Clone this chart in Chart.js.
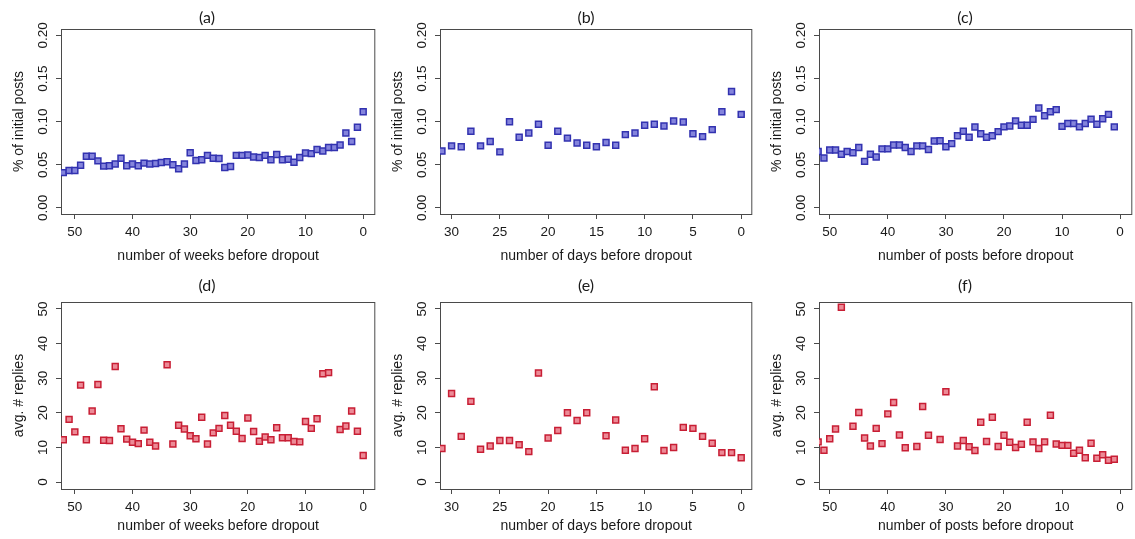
<!DOCTYPE html>
<html>
<head>
<meta charset="utf-8">
<title>dropout activity</title>
<script src="https://cdn.jsdelivr.net/npm/chart.js@4"></script>
<style>
  html, body { margin: 0; padding: 0; background: #fff; }
  body { position: relative; width: 1135px; height: 539px; overflow: hidden; }
  canvas { position: absolute; }
</style>
</head>
<body>
<canvas id="chartA"></canvas>
<canvas id="chartB"></canvas>
<canvas id="chartC"></canvas>
<canvas id="chartD"></canvas>
<canvas id="chartE"></canvas>
<canvas id="chartF"></canvas>
<script>
// x categories (counted down to the dropout)
const weeks = countdown(52, 0);
const days = countdown(31, 0);
const posts = countdown(52, 1);

// tick labels
const weekTicks = [50, 40, 30, 20, 10, 0];
const dayTicks = [30, 25, 20, 15, 10, 5, 0];
const postTicks = [50, 40, 30, 20, 10, 0];
const shareTicks = [0, 0.05, 0.10, 0.15, 0.20];
const replyTicks = [0, 10, 20, 30, 40, 50];

// % of initial posts
const shareByWeek = [0.041, 0.0435, 0.0435, 0.0496, 0.060, 0.060, 0.0546, 0.0485, 0.049, 0.051,
  0.0577, 0.049, 0.051, 0.049, 0.052, 0.051, 0.0515, 0.0527, 0.0535, 0.050, 0.0454, 0.051, 0.064,
  0.055, 0.056, 0.061, 0.0577, 0.0573, 0.047, 0.048, 0.061, 0.061, 0.0615, 0.059, 0.0585, 0.061,
  0.0558, 0.062, 0.0558, 0.0565, 0.053, 0.0585, 0.0638, 0.063, 0.0677, 0.066, 0.070, 0.070, 0.073,
  0.087, 0.077, 0.0935, 0.1115];
const shareByDay = [0.066, 0.072, 0.071, 0.089, 0.072, 0.077, 0.065, 0.100, 0.082, 0.087, 0.097,
  0.0727, 0.089, 0.081, 0.0754, 0.0727, 0.071, 0.0758, 0.0727, 0.085, 0.087, 0.096, 0.097, 0.095,
  0.1008, 0.0996, 0.086, 0.0827, 0.0908, 0.1115, 0.135, 0.1085];
const shareByPost = [0.0654, 0.058, 0.0673, 0.0673, 0.0623, 0.0654, 0.064, 0.070, 0.054, 0.0623,
  0.059, 0.0685, 0.0685, 0.073, 0.073, 0.070, 0.0654, 0.072, 0.072, 0.0677, 0.0777, 0.078, 0.071,
  0.0746, 0.0838, 0.089, 0.082, 0.0938, 0.086, 0.082, 0.0838, 0.0885, 0.094, 0.095, 0.101, 0.0958,
  0.0958, 0.1027, 0.116, 0.107, 0.1115, 0.114, 0.0946, 0.098, 0.098, 0.094, 0.098, 0.103, 0.097,
  0.1035, 0.1085, 0.094];

// avg. # replies (null = no point)
const repliesByWeek = [12.2, 18.1, 14.5, 28.0, 12.2, 20.5, 28.2, 12.1, 12.0, 33.4, 15.4, 12.4, 11.5,
  11.1, 15.0, 11.5, 10.4, null, 33.9, 11.0, 16.4, 15.3, 13.4, 12.5, 18.7, 11.0, 14.2, 15.5, 19.2,
  16.4, 14.7, 12.6, 18.5, 14.6, 11.8, 13.0, 12.2, 15.7, 12.8, 12.8, 11.7, 11.6, 17.5, 15.5, 18.3,
  31.3, 31.6, null, 15.2, 16.2, 20.5, 14.7, 7.7];
const repliesByDay = [9.7, 25.6, 13.2, 23.3, 9.5, 10.4, 12.0, 12.0, 10.8, 8.8, 31.5, 12.7, 14.9,
  20.0, 17.8, 20.0, null, 13.4, 17.9, 9.2, 9.7, 12.5, 27.5, 9.1, 10.0, 15.8, 15.5, 13.2, 11.2, 8.5,
  8.5, 7.0];
const repliesByPost = [11.6, 9.2, 12.5, 15.3, 50.5, null, 16.1, 20.1, 12.7, 10.4, 15.5, 11.1, 19.7,
  23.0, 13.6, 9.9, null, 10.3, 21.8, 13.5, null, 12.3, 26.1, null, 10.4, 12.0, 10.2, 9.1, 17.3,
  11.7, 18.7, 10.3, 13.5, 11.5, 10.0, 10.9, 17.3, 11.6, 9.7, 11.6, 19.3, 11.0, 10.6, 10.6, 8.3,
  9.2, 7.0, 11.2, 6.9, 7.9, 6.3, 6.6];

function countdown(from, to) {
    const out = [];
    for (let v = from; v >= to; v--) out.push(v);
    return out;
}

// layout of the 2x3 grid
const COL_LEFT = [0, 379, 758];
const COL_WIDTH = [381, 379, 380];
const ROW_TOP = [0, 270];
const ROW_HEIGHT = [270, 269];
const ROW_PAD_TOP = [29, 32];     // room for the (a)..(f) label
const ROW_X_AXIS = [56, 50];      // room under the box
const ROW_TITLE_GAP = [11.5, 16];
const ROW_XTITLE_PAD = [5, 4];
const Y_AXIS_W = 61;

const TEXT = '#1a1a1a';
const FRAME = '#4a4a4a';
const tickFont = { family: '"Liberation Sans", Arial, sans-serif', size: 13.5 };
const labelFont = { family: '"Liberation Sans", Arial, sans-serif', size: 14 };

const BLUE = { edge: '#3232b0', fill: '#8484dc' };
const RED = { edge: '#c81e34', fill: '#ec8a96' };

// R style box around the plot region
const framePlugin = {
    id: 'frame',
    beforeDatasetsDraw(chart) {
        const { ctx, chartArea: a } = chart;
        ctx.save();
        ctx.strokeStyle = FRAME;
        ctx.lineWidth = 1;
        ctx.strokeRect(a.left + 0.5, a.top + 0.5, a.right - a.left - 1, a.bottom - a.top);
        ctx.restore();
    }
};

// panel letter, placed like in the figure (a bit left of the box centre)
const panelTitlePlugin = {
    id: 'panelTitle',
    afterDraw(chart, args, opts) {
        const { ctx, chartArea: a } = chart;
        ctx.save();
        ctx.font = '16px Lato, "Open Sans", sans-serif';
        ctx.fillStyle = TEXT;
        ctx.textAlign = 'center';
        ctx.textBaseline = 'middle';
        ctx.fillText(opts.text, a.left + 146, a.top - opts.gap);
        ctx.restore();
    }
};

function createChart(p) {
    const canvas = document.getElementById(p.id);
    canvas.width = COL_WIDTH[p.col];
    canvas.height = ROW_HEIGHT[p.row];
    canvas.style.left = COL_LEFT[p.col] + 'px';
    canvas.style.top = ROW_TOP[p.row] + 'px';

    const pts = p.x.map((v, i) => ({ x: v, y: p.y[i] })).filter(d => d.y !== null);
    const row = p.row;

    return new Chart(canvas.getContext('2d'), {
        type: 'scatter',
        data: {
            datasets: [{
                data: pts,
                pointStyle: 'rect',
                pointRadius: 4.2,
                pointBackgroundColor: p.color.fill,
                pointBorderColor: p.color.edge,
                pointBorderWidth: 1.5,
                clip: 0
            }, {
                data: pts,
                pointStyle: 'crossRot',
                pointRadius: 2.4,
                pointBorderColor: p.color.edge,
                pointBorderWidth: 1,
                clip: 0
            }]
        },
        options: {
            responsive: false,
            animation: false,
            events: [],
            layout: { padding: { top: ROW_PAD_TOP[row], right: 1, left: 0, bottom: 0 } },
            plugins: {
                legend: { display: false },
                tooltip: { enabled: false },
                panelTitle: { text: p.title, gap: ROW_TITLE_GAP[row] }
            },
            scales: {
                x: {
                    type: 'linear',
                    reverse: true,
                    min: p.xRange[0],
                    max: p.xRange[1],
                    afterBuildTicks: s => { s.ticks = p.xTicks.map(v => ({ value: v })); },
                    afterFit: s => { s.height = ROW_X_AXIS[row]; },
                    grid: { drawOnChartArea: false, tickLength: 5, color: FRAME },
                    border: { display: false },
                    ticks: { font: tickFont, color: TEXT, padding: 5, maxRotation: 0, autoSkip: false },
                    title: { display: true, text: p.xLabel, font: labelFont, color: TEXT,
                             padding: { top: 0, bottom: ROW_XTITLE_PAD[row] } }
                },
                y: {
                    type: 'linear',
                    min: p.yRange[0],
                    max: p.yRange[1],
                    afterBuildTicks: s => { s.ticks = p.yTicks.map(v => ({ value: v })); },
                    afterFit: s => { s.width = Y_AXIS_W; },
                    grid: { drawOnChartArea: false, tickLength: 5, color: FRAME },
                    border: { display: false },
                    ticks: {
                        font: tickFont, color: TEXT, autoSkip: false,
                        minRotation: 90, maxRotation: 90, crossAlign: 'center',
                        padding: row ? 5 : 0,
                        callback: v => row ? String(v) : v.toFixed(2)
                    },
                    title: { display: true, text: p.yLabel, font: labelFont, color: TEXT,
                             padding: { top: 11, bottom: 0 } }
                }
            }
        },
        plugins: [framePlugin, panelTitlePlugin]
    });
}

const SHARE_RANGE = [-0.007, 0.2075];
const REPLY_RANGE = [-2, 52];

const panels = [
    { id: 'chartA', title: '(a)', row: 0, col: 0, x: weeks, y: shareByWeek, xTicks: weekTicks, xRange: [-2.1, 52.4],
      yTicks: shareTicks, yRange: SHARE_RANGE, color: BLUE, xLabel: 'number of weeks before dropout', yLabel: '% of initial posts' },
    { id: 'chartB', title: '(b)', row: 0, col: 1, x: days, y: shareByDay, xTicks: dayTicks, xRange: [-1.15, 31.2],
      yTicks: shareTicks, yRange: SHARE_RANGE, color: BLUE, xLabel: 'number of days before dropout', yLabel: '% of initial posts' },
    { id: 'chartC', title: '(c)', row: 0, col: 2, x: posts, y: shareByPost, xTicks: postTicks, xRange: [-2.1, 51.85],
      yTicks: shareTicks, yRange: SHARE_RANGE, color: BLUE, xLabel: 'number of posts before dropout', yLabel: '% of initial posts' },
    { id: 'chartD', title: '(d)', row: 1, col: 0, x: weeks, y: repliesByWeek, xTicks: weekTicks, xRange: [-2.1, 52.4],
      yTicks: replyTicks, yRange: REPLY_RANGE, color: RED, xLabel: 'number of weeks before dropout', yLabel: 'avg. # replies' },
    { id: 'chartE', title: '(e)', row: 1, col: 1, x: days, y: repliesByDay, xTicks: dayTicks, xRange: [-1.15, 31.2],
      yTicks: replyTicks, yRange: REPLY_RANGE, color: RED, xLabel: 'number of days before dropout', yLabel: 'avg. # replies' },
    { id: 'chartF', title: '(f)', row: 1, col: 2, x: posts, y: repliesByPost, xTicks: postTicks, xRange: [-2.1, 51.85],
      yTicks: replyTicks, yRange: REPLY_RANGE, color: RED, xLabel: 'number of posts before dropout', yLabel: 'avg. # replies' }
];

panels.forEach(createChart);
</script>
</body>
</html>
